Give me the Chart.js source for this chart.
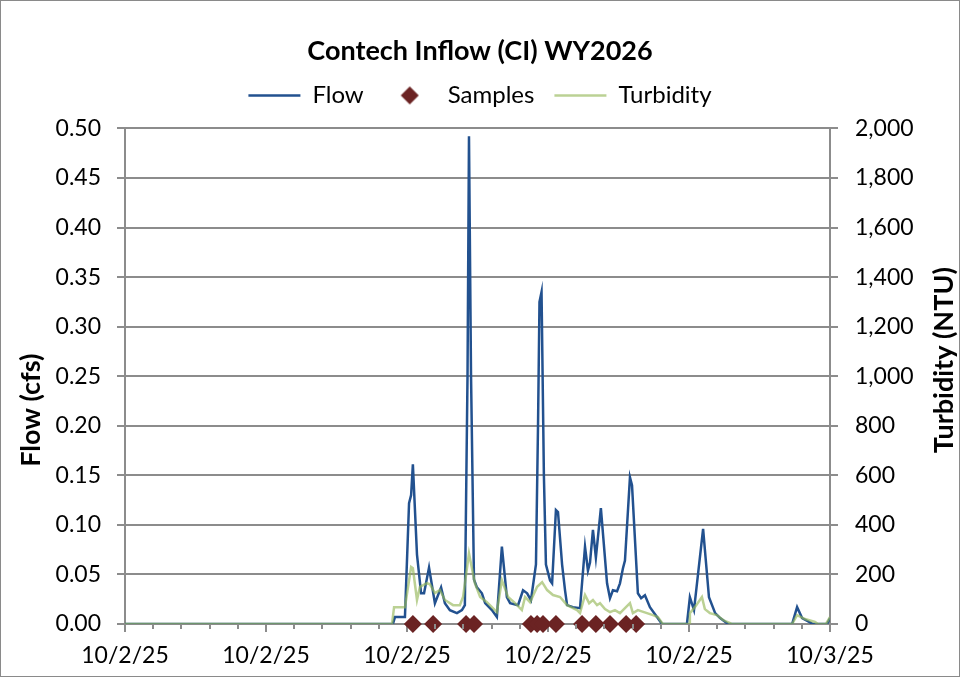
<!DOCTYPE html>
<html><head><meta charset="utf-8">
<script src="https://cdn.jsdelivr.net/npm/chart.js@4.4.1/dist/chart.umd.min.js"></script>
<style>
html,body{margin:0;padding:0;background:#fff;}
#wrap{width:960px;height:677px;box-sizing:border-box;border:1px solid #8a8a8a;background:#fff;}
canvas{display:block;}
</style></head><body>
<div id="wrap"><canvas id="c" width="958" height="675"></canvas></div>
<script>
// ---- data (time in hours after 10/2/25 00:00) ----
const flowTimes = [0, 9.12, 9.19, 9.53, 9.67, 9.74, 9.80, 9.94, 10.08, 10.18, 10.35, 10.55, 10.76, 10.89, 11.06, 11.30, 11.47, 11.57, 11.66, 11.71, 11.78, 11.88, 11.98, 12.15, 12.26, 12.49, 12.66, 12.83, 13.00, 13.11, 13.38, 13.55, 13.69, 13.82, 13.99, 14.06, 14.11, 14.18, 14.26, 14.33, 14.47, 14.54, 14.67, 14.74, 14.88, 14.98, 15.05, 15.25, 15.49, 15.66, 15.76, 15.83, 15.93, 16.03, 16.20, 16.41, 16.51, 16.61, 16.75, 16.85, 16.95, 17.02, 17.19, 17.26, 17.46, 17.57, 17.70, 17.87, 18.11, 18.28, 19.13, 19.23, 19.37, 19.68, 19.88, 20.09, 20.26, 20.53, 22.71, 22.88, 23.05, 23.42, 23.90, 24.0];
const flowValues = [0, 0, 0.007, 0.007, 0.122, 0.130, 0.161, 0.070, 0.031, 0.031, 0.057, 0.021, 0.037, 0.021, 0.014, 0.011, 0.014, 0.019, 0.25, 0.492, 0.25, 0.045, 0.037, 0.031, 0.021, 0.014, 0.007, 0.078, 0.027, 0.021, 0.019, 0.034, 0.031, 0.024, 0.060, 0.200, 0.325, 0.335, 0.150, 0.060, 0.044, 0.041, 0.115, 0.113, 0.060, 0.034, 0.019, 0.017, 0.016, 0.078, 0.054, 0.062, 0.095, 0.067, 0.117, 0.041, 0.026, 0.034, 0.033, 0.041, 0.056, 0.064, 0.148, 0.140, 0.031, 0.026, 0.029, 0.017, 0.007, 0, 0, 0.027, 0.014, 0.096, 0.027, 0.011, 0.006, 0, 0, 0.017, 0.006, 0, 0, 0.006];

const turbTimes = [0, 9.09, 9.16, 9.53, 9.74, 9.80, 9.94, 10.04, 10.28, 10.38, 10.55, 10.72, 10.89, 11.17, 11.40, 11.51, 11.71, 11.91, 12.09, 12.32, 12.49, 12.66, 12.83, 13.04, 13.28, 13.51, 13.62, 13.79, 14.03, 14.20, 14.37, 14.57, 14.81, 15.05, 15.39, 15.49, 15.66, 15.80, 15.93, 16.07, 16.17, 16.34, 16.51, 16.68, 16.85, 17.02, 17.19, 17.29, 17.46, 17.77, 17.97, 18.14, 18.31, 19.20, 19.23, 19.40, 19.64, 19.74, 19.91, 20.15, 20.36, 20.60, 20.66, 22.71, 22.88, 23.15, 23.49, 23.59, 23.86, 24.0];
const turbValues = [0, 0, 68, 68, 230, 225, 97, 150, 165, 160, 125, 137, 97, 76, 76, 110, 285, 165, 109, 88, 68, 48, 177, 109, 84, 56, 109, 88, 150, 169, 137, 117, 109, 76, 56, 44, 117, 84, 97, 76, 84, 60, 48, 56, 44, 64, 84, 44, 56, 44, 36, 28, 0, 0, 44, 68, 109, 60, 44, 36, 16, 4, 0, 0, 36, 20, 8, 0, 0, 28];

const sampleTimes = [9.80, 10.49, 11.61, 11.88, 13.82, 14.03, 14.23, 14.67, 15.56, 16.03, 16.51, 17.06, 17.40];
const sampleValues = [0, 0, 0, 0, 0, 0, 0, 0, 0, 0, 0, 0, 0];

const majorTickHours = [0, 4.8, 9.6, 14.4, 19.2, 24];
const majorTickLabels = ['10/2/25', '10/2/25', '10/2/25', '10/2/25', '10/2/25', '10/3/25'];
const minorPerMajor = 5;

const chartTitle = 'Contech Inflow (CI) WY2026';
const leftTitle = 'Flow (cfs)';
const rightTitle = 'Turbidity (NTU)';

// ---- build ----
const zip = (xs, ys) => xs.map((x, i) => ({x, y: ys[i]}));
const xTicks = [];
for (let i = 0; i < majorTickHours.length - 1; i++) {
  const a = majorTickHours[i], b = majorTickHours[i + 1];
  for (let k = 0; k < minorPerMajor; k++) xTicks.push(+(a + (b - a) * k / minorPerMajor).toFixed(4));
}
xTicks.push(majorTickHours[majorTickHours.length - 1]);
const majorIndex = v => majorTickHours.findIndex(m => Math.abs(m - v) < 1e-6);

const FONT = 'Lato, "Open Sans", sans-serif';
const GRID = '#8c8c8c';
const SAMPLE = '#6b2323';

const diamond = document.createElement('canvas');
diamond.width = 20; diamond.height = 20;
(function(){ const g = diamond.getContext('2d'); g.fillStyle = SAMPLE; g.beginPath(); g.moveTo(10,1); g.lineTo(19,10); g.lineTo(10,19); g.lineTo(1,10); g.closePath(); g.fill(); })();

const axisTitles = {
  id: 'axisTitles',
  afterDraw(chart) {
    const {ctx, chartArea} = chart;
    const cy = (chartArea.top + chartArea.bottom) / 2;
    ctx.save();
    ctx.font = 'bold 27px ' + FONT;
    ctx.fillStyle = '#000';
    ctx.textAlign = 'center';
    ctx.textBaseline = 'middle';
    ctx.save(); ctx.translate(30, cy + 34); ctx.rotate(-Math.PI / 2); ctx.fillText(leftTitle, 0, 0); ctx.restore();
    ctx.save(); ctx.translate(943, cy - 16); ctx.rotate(-Math.PI / 2); ctx.fillText(rightTitle, 0, 0); ctx.restore();
    ctx.restore();
  }
};

const legendSpacer = {
  id: 'legendSpacer',
  beforeLayout(chart) {
    const lg = chart.legend;
    if (lg && !lg._spaced) {
      const fit = lg.fit;
      lg.fit = function() { fit.call(this); this.height += 11; };
      lg._spaced = true;
    }
  }
};

new Chart(document.getElementById('c'), {
  data: {
    datasets: [
      {type: 'line', label: 'Flow', data: zip(flowTimes, flowValues), yAxisID: 'y', borderColor: '#22518f', backgroundColor: '#22518f', borderWidth: 2.5, pointRadius: 0, pointStyle: 'line', tension: 0, order: 2},
      {type: 'scatter', label: 'Samples', data: zip(sampleTimes, sampleValues), yAxisID: 'y', pointStyle: 'rectRot', pointRadius: 9, backgroundColor: SAMPLE, borderColor: SAMPLE, borderWidth: 0, order: 0, clip: false},
      {type: 'line', label: 'Turbidity', data: zip(turbTimes, turbValues), yAxisID: 'y2', borderColor: 'rgba(150,184,90,0.65)', backgroundColor: 'rgba(150,184,90,0.65)', borderWidth: 2.5, pointRadius: 0, pointStyle: 'line', tension: 0, order: 1}
    ]
  },
  options: {
    responsive: false,
    animation: false,
    layout: {padding: {left: 0, right: 0, top: 0, bottom: 0}},
    plugins: {
      title: {display: true, text: chartTitle, color: '#000', font: {family: FONT, size: 27, weight: 'bold'}, padding: {top: 34, bottom: -4}},
      legend: {
        display: true, position: 'top',
        labels: {
          usePointStyle: true, pointStyleWidth: 52, padding: 20, color: '#000',
          font: {family: FONT, size: 24},
          sort: (a, b) => a.datasetIndex - b.datasetIndex,
          generateLabels(chart) {
            const items = Chart.defaults.plugins.legend.labels.generateLabels(chart);
            items.forEach(it => { if (it.text === 'Samples') { it.pointStyle = diamond; } });
            return items;
          }
        }
      },
      tooltip: {enabled: false}
    },
    scales: {
      x: {
        type: 'linear', min: 0, max: 24,
        afterBuildTicks: s => { s.ticks = xTicks.map(v => ({value: v})); },
        afterFit: s => { s.height = 52; },
        grid: {drawOnChartArea: false, drawTicks: true, tickLength: 8, lineWidth: 2,
               color: ctx => (ctx.tick && majorIndex(ctx.tick.value) >= 0) ? GRID : 'rgba(0,0,0,0)'},
        border: {display: true, color: GRID, width: 2},
        ticks: {autoSkip: false, maxRotation: 0, padding: 10, color: '#000', font: {family: FONT, size: 23},
                callback: v => { const i = majorIndex(v); return i >= 0 ? majorTickLabels[i] : ''; }}
      },
      y: {
        position: 'left', min: 0, max: 0.5,
        afterFit: s => { s.width = 124; },
        ticks: {stepSize: 0.05, padding: 16, color: '#000', font: {family: FONT, size: 23}, callback: v => v.toFixed(2)},
        grid: {color: GRID, lineWidth: 2, tickLength: 8},
        border: {display: true, color: GRID, width: 2}
      },
      y2: {
        position: 'right', min: 0, max: 2000,
        afterFit: s => { s.width = 129; },
        ticks: {stepSize: 200, padding: 17, color: '#000', font: {family: FONT, size: 23}, callback: v => v.toLocaleString('en-US')},
        grid: {drawOnChartArea: false, color: GRID, lineWidth: 2, tickLength: 8},
        border: {display: true, color: GRID, width: 2}
      }
    }
  },
  plugins: [legendSpacer, axisTitles, {
    id: 'minorTicks',
    afterDraw(chart) {
      const s = chart.scales.x, ctx = chart.ctx;
      ctx.save(); ctx.strokeStyle = GRID; ctx.lineWidth = 2;
      xTicks.forEach(v => { if (majorIndex(v) < 0) { const px = Math.round(s.getPixelForValue(v)); ctx.beginPath(); ctx.moveTo(px, s.top); ctx.lineTo(px, s.top + 5); ctx.stroke(); } });
      ctx.restore();
    }
  }]
});
</script>
</body></html>
